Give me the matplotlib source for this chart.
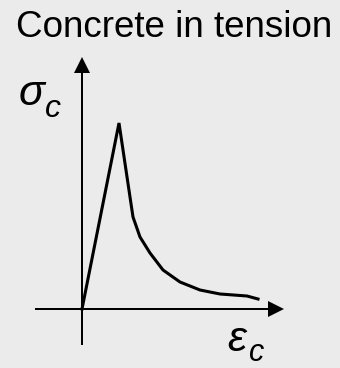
import matplotlib
matplotlib.use("Agg")
import matplotlib.pyplot as plt

plt.rcParams['font.family'] = ['Liberation Sans', 'DejaVu Sans']

# tension softening curve, traced in plot units (origin at the axes crossing)
strain = [0, 37, 48, 51, 58, 68, 81, 98, 118, 138, 165, 176]
stress = [0, 186, 112, 92, 72, 56, 39, 27, 19, 15, 13, 10]

title = "Concrete in tension"
ysym, ysub = "σ", "c"
xsym, xsub = "ε", "c"

bg = "#ebebeb"

fig = plt.figure(figsize=(3.4, 3.68), dpi=100, facecolor=bg)
ax = fig.add_axes([0, 0, 1, 1])
ax.set_facecolor(bg)
ax.set_xlim(-82, 258)
ax.set_ylim(-59, 309)
ax.axis('off')

# axes with arrowheads
ax.arrow(-47, 0, 249, 0, width=2, head_width=16, head_length=16,
         length_includes_head=True, color='black', lw=0)
ax.arrow(0, -36, 0, 288, width=2, head_width=16, head_length=16,
         length_includes_head=True, color='black', lw=0)

ax.plot(strain, stress, color='black', lw=2.2, solid_joinstyle='miter')

ax.text(-66, 272, title, fontsize=26.5, va='baseline', ha='left')

# axis symbols with subscripts
ax.text(-63, 204, ysym, fontsize=31, style='italic', va='baseline', ha='left')
ax.text(-37, 192, ysub, fontsize=23, style='italic', va='baseline', ha='left')
ax.text(145, -42, xsym, fontsize=31, style='italic', va='baseline', ha='left')
ax.text(167, -52, xsub, fontsize=22, style='italic', va='baseline', ha='left')

fig.savefig("out.png", dpi=100, facecolor=bg)
